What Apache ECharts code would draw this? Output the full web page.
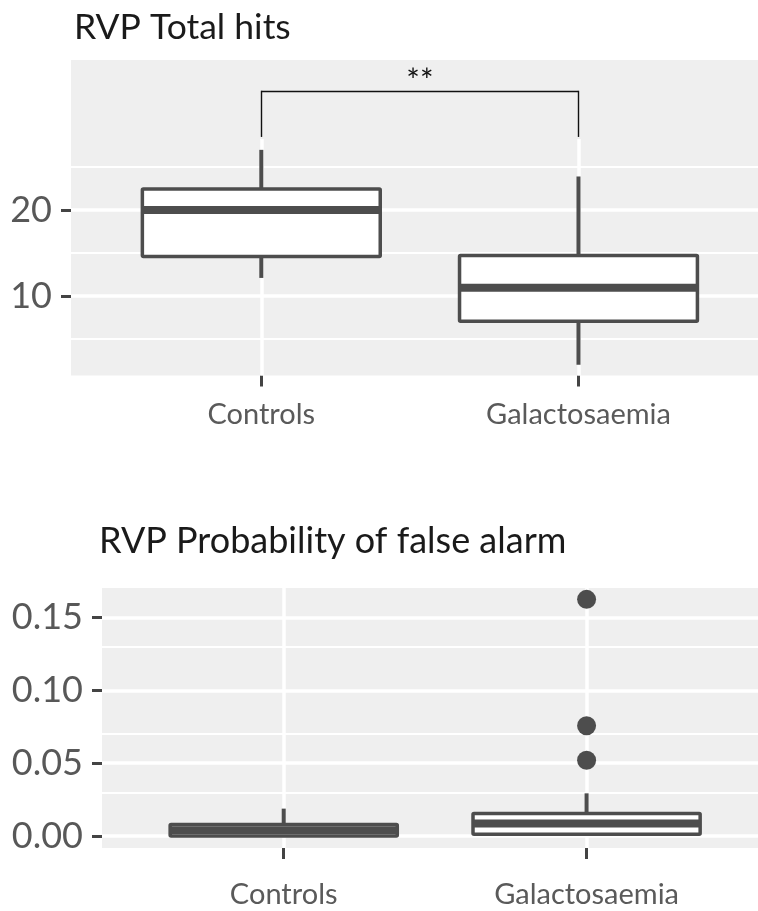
<!DOCTYPE html>
<html>
<head>
<meta charset="utf-8">
<script src="https://cdn.jsdelivr.net/npm/echarts@6/dist/echarts.min.js"></script>
<style>
  html, body { margin: 0; padding: 0; background: #ffffff; }
  #chart { width: 758px; height: 911px; }
</style>
</head>
<body>
<div id="chart"></div>
<script>
// ---------- data ----------
const categories = ['Controls', 'Galactosaemia'];

// RVP Total hits: [min, Q1, median, Q3, max]
const hitsControls = [12.1, 14.6, 20.0, 22.45, 27.0];
const hitsGalactosaemia = [2.0, 7.05, 10.95, 14.7, 23.9];

// RVP Probability of false alarm: [min, Q1, median, Q3, max]
const faControls = [0.0, 0.0, 0.004, 0.0079, 0.0188];
const faGalactosaemia = [0.0, 0.0012, 0.0086, 0.0155, 0.0293];
const faOutliersGalactosaemia = [0.1626, 0.0758, 0.052];

// axis ticks / gridlines
const hitsMajorTicks = [10, 20];
const hitsMinorTicks = [5, 15, 25];
const faMajorTicks = [0.00, 0.05, 0.10, 0.15];
const faMinorTicks = [0.025, 0.075, 0.125];
const catPositions = [0, 1];

// axis limits (ggplot-style discrete expansion of 0.6 on each side)
const xRange = [-0.6, 1.566];
const hitsRange = [0.75, 37.45];
const hitsDataRange = [0.75, 28.25];
const faRange = [-0.00825, 0.1704];

// significance bracket
const sigLabel = '**';
const bracketLow = 28.5;
const bracketHigh = 33.87;

// ---------- style ----------
const FONT = 'Lato';
const BOX_COLOR = '#4d4d4d';
const PANEL_BG = '#EFEFEF';

function renderBox(params, api) {
  const x = api.value(0);
  const pMin = api.coord([x, api.value(1)]);
  const pQ1 = api.coord([x, api.value(2)]);
  const pMed = api.coord([x, api.value(3)]);
  const pQ3 = api.coord([x, api.value(4)]);
  const pMax = api.coord([x, api.value(5)]);
  const w = api.size([0.75, 0])[0];
  const cx = pMed[0];
  const l = cx - w / 2, r = cx + w / 2;
  return {
    type: 'group',
    children: [
      { type: 'line', shape: { x1: cx, y1: pQ3[1], x2: cx, y2: pMax[1] },
        style: { stroke: BOX_COLOR, lineWidth: 4, lineCap: 'butt' } },
      { type: 'line', shape: { x1: cx, y1: pQ1[1], x2: cx, y2: pMin[1] },
        style: { stroke: BOX_COLOR, lineWidth: 4, lineCap: 'butt' } },
      { type: 'rect', shape: { x: l, y: pQ3[1], width: w, height: pQ1[1] - pQ3[1], r: 1 },
        style: { fill: '#ffffff', stroke: BOX_COLOR, lineWidth: 3.5 } },
      { type: 'line', shape: { x1: l, y1: pMed[1], x2: r, y2: pMed[1] },
        style: { stroke: BOX_COLOR, lineWidth: 8, lineCap: 'butt' } }
    ]
  };
}

function gridLines(major, minor, yLo, yHi) {
  const data = [];
  major.forEach(v => data.push({ yAxis: v, lineStyle: { width: 3.5 } }));
  minor.forEach(v => data.push({ yAxis: v, lineStyle: { width: 2 } }));
  catPositions.forEach(i => {
    data.push([{ coord: [i, yLo], lineStyle: { width: 3.5 } }, { coord: [i, yHi] }]);
  });
  return {
    silent: true, z: 1, symbol: 'none', animation: false,
    label: { show: false },
    emphasis: { disabled: true },
    lineStyle: { color: '#ffffff', type: 'solid' },
    data: data
  };
}

function makeXAxis(gridIndex, margin) {
  return {
    type: 'value', gridIndex: gridIndex, min: xRange[0], max: xRange[1], position: 'bottom',
    axisLine: { show: false, onZero: false },
    axisTick: { show: true, customValues: catPositions, length: 11, lineStyle: { width: 3, color: '#444' } },
    splitLine: { show: false },
    axisLabel: { customValues: catPositions, margin: margin, fontFamily: FONT, fontSize: 29, color: '#5a5a5a',
      formatter: v => categories[Math.round(v)] }
  };
}

function makeYAxis(gridIndex, range, ticks, fmt) {
  return {
    type: 'value', gridIndex: gridIndex, min: range[0], max: range[1], position: 'left',
    axisLine: { show: false, onZero: false },
    axisTick: { show: true, customValues: ticks, length: 10, lineStyle: { width: 3, color: '#444' } },
    axisLabel: { customValues: ticks, margin: 19, fontFamily: FONT, fontSize: 36, color: '#585858', formatter: fmt },
    splitLine: { show: false }
  };
}

const option = {
  animation: false,
  backgroundColor: '#ffffff',
  title: [
    { text: 'RVP Total hits', left: 69, top: 5,
      textStyle: { fontFamily: FONT, fontSize: 35.5, fontWeight: 'normal', color: '#1a1a1a' } },
    { text: 'RVP Probability of false alarm', left: 94, top: 518,
      textStyle: { fontFamily: FONT, fontSize: 36, fontWeight: 'normal', color: '#1a1a1a' } }
  ],
  grid: [
    { left: 71, right: 0, top: 60, bottom: 535.5, show: true, backgroundColor: PANEL_BG, borderWidth: 0 },
    { left: 102, right: 0, top: 588, bottom: 63, show: true, backgroundColor: PANEL_BG, borderWidth: 0 }
  ],
  xAxis: [ makeXAxis(0, 25), makeXAxis(1, 32) ],
  yAxis: [
    makeYAxis(0, hitsRange, hitsMajorTicks, v => String(v)),
    makeYAxis(1, faRange, faMajorTicks, v => Number(v).toFixed(2))
  ],
  series: [
    {
      type: 'custom', xAxisIndex: 0, yAxisIndex: 0, z: 3,
      renderItem: renderBox,
      encode: { x: 0, y: [1, 2, 3, 4, 5] },
      data: [[0].concat(hitsControls), [1].concat(hitsGalactosaemia)],
      markLine: gridLines(hitsMajorTicks, hitsMinorTicks, hitsDataRange[0], hitsDataRange[1])
    },
    {
      type: 'line', xAxisIndex: 0, yAxisIndex: 0, z: 4, data: [],
      markLine: {
        silent: true, z: 6, symbol: 'none', animation: false,
        emphasis: { disabled: true },
        lineStyle: { color: '#111', width: 1.4, type: 'solid' },
        label: { show: false },
        data: [
          [{ coord: [0, bracketLow] }, { coord: [0, bracketHigh] }],
          [{ coord: [0, bracketHigh], label: { show: true, position: 'middle', formatter: sigLabel,
              fontFamily: FONT, fontSize: 32, color: '#111', distance: -7 } }, { coord: [1, bracketHigh] }],
          [{ coord: [1, bracketHigh] }, { coord: [1, bracketLow] }]
        ]
      }
    },
    {
      type: 'custom', xAxisIndex: 1, yAxisIndex: 1, z: 3,
      renderItem: renderBox,
      encode: { x: 0, y: [1, 2, 3, 4, 5] },
      data: [[0].concat(faControls), [1].concat(faGalactosaemia)],
      markLine: gridLines(faMajorTicks, faMinorTicks, faRange[0], faRange[1])
    },
    {
      type: 'scatter', xAxisIndex: 1, yAxisIndex: 1, z: 4,
      symbolSize: 19, itemStyle: { color: BOX_COLOR, opacity: 1 },
      silent: true,
      data: faOutliersGalactosaemia.map(v => [1, v])
    }
  ]
};

const chart = echarts.init(document.getElementById('chart'), null, { renderer: 'canvas' });
chart.setOption(option);
</script>
</body>
</html>
